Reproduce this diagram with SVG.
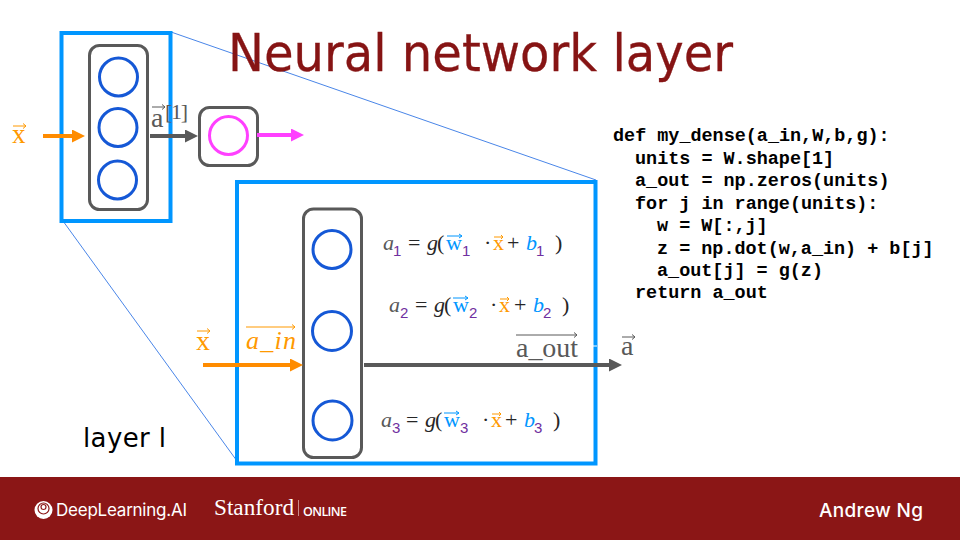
<svg xmlns="http://www.w3.org/2000/svg" width="960" height="540" viewBox="0 0 960 540">
<style>
.box{fill:none;stroke:#0096ff;stroke-width:4}
.thin{stroke:#4a86e8;stroke-width:1;fill:none}
.layer{fill:#fff;stroke:#595959;stroke-width:3}
.unit{fill:#fff;stroke:#1558d6;stroke-width:3}
.code{font:bold 18.45px "Liberation Mono",monospace;fill:#000;white-space:pre}
.m{font-family:"Liberation Serif","DejaVu Serif",serif;font-size:22px;fill:#262626}
.i{font-style:italic}
.sub{font-size:15px;fill:#7030a0;font-family:"Liberation Sans",sans-serif}
.gy{fill:#595959}.bl{fill:#0096ff}.or{fill:#ff9900}
.vo{stroke:#ff9900;stroke-width:1;fill:none}
.vg{stroke:#595959;stroke-width:1;fill:none}
.vb{stroke:#0096ff;stroke-width:1;fill:none}
.ft{fill:#fff}
</style>
<defs>
<marker id="ao" markerUnits="userSpaceOnUse" markerWidth="14" markerHeight="14" refX="2" refY="6.500" orient="auto"><path d="M0 0L13 6.500L0 13Z" fill="#ff8c00"/></marker>
<marker id="ag" markerUnits="userSpaceOnUse" markerWidth="14" markerHeight="14" refX="2" refY="6.500" orient="auto"><path d="M0 0L13 6.500L0 13Z" fill="#595959"/></marker>
<marker id="am" markerUnits="userSpaceOnUse" markerWidth="14" markerHeight="14" refX="2" refY="6.500" orient="auto"><path d="M0 0L13 6.500L0 13Z" fill="#ff40ff"/></marker>
</defs>
<rect width="960" height="540" fill="#fff"/>
<g id="connectors" fill="none" stroke-width="4">
<line class="thin" x1="171" y1="32" x2="596" y2="180"/>
<line class="thin" x1="63" y1="221" x2="237" y2="461"/>
</g>
<text id="title" x="228" y="71" font-family="'DejaVu Sans',Verdana,sans-serif" font-size="52" fill="#861414" stroke="#861414" stroke-width="0.3" textLength="505" lengthAdjust="spacingAndGlyphs">Neural network layer</text>
<g id="small-box"><rect class="box" x="61.500" y="33" width="109" height="188"/></g>
<g id="small-layer">
<rect class="layer" x="89.500" y="45.500" width="58" height="164" rx="10"/>
<circle class="unit" cx="118.500" cy="77" r="19"/>
<circle class="unit" cx="118" cy="127.500" r="19"/>
<circle class="unit" cx="117.500" cy="180" r="19"/>
</g>
<g id="output-node">
<rect class="layer" x="199.500" y="107.500" width="58" height="58" rx="10"/>
<circle cx="228.500" cy="135.500" r="19" fill="#fff" stroke="#ff40ff" stroke-width="3"/>
</g>
<g id="big-box"><rect class="box" x="237" y="182" width="358.500" height="281.500"/></g>
<g id="big-layer">
<rect class="layer" x="303.500" y="209" width="58" height="248.500" rx="10"/>
<circle class="unit" cx="332" cy="249.500" r="19"/>
<circle class="unit" cx="332" cy="331" r="19.500"/>
<circle class="unit" cx="332.500" cy="420.500" r="19.500"/>
</g>
<g id="arrows" fill="none" stroke-width="4">
<line x1="43" y1="136" x2="74" y2="136" stroke="#ff8c00" marker-end="url(#ao)"/>
<line x1="150" y1="136" x2="187" y2="136" stroke="#595959" marker-end="url(#ag)"/>
<line x1="257" y1="135" x2="293" y2="135" stroke="#ff40ff" marker-end="url(#am)"/>
<line x1="203" y1="365" x2="292" y2="365" stroke="#ff8c00" marker-end="url(#ao)"/>
<line x1="364" y1="365" x2="611" y2="365" stroke="#595959" marker-end="url(#ag)"/>
</g>
<rect x="593" y="345.500" width="4" height="1" fill="#fff"/>
<g id="labels">
<text x="12" y="143" class="m or" style="font-size:27px">x</text>
<path class="vo" d="M13 126H26M23 123.500L26 126L23 128.500"/>
<text x="151" y="127" class="m gy" style="font-size:28px">a</text>
<path class="vg" d="M152 107H165M162 104.500L165 107L162 109.500"/>
<text x="165" y="119" class="m gy" style="font-size:22px" textLength="23">[1]</text>
<text x="196" y="350" class="m or" style="font-size:28px">x</text>
<path class="vo" d="M197 331H210M207 328.500L210 331L207 333.500"/>
<text x="246" y="349" class="m i or" style="font-size:26px" textLength="50">a_in</text>
<path class="vo" d="M246 327H295M292 324.500L295 327L292 329.500"/>
<text x="516" y="357" class="m gy" style="font-size:28px" textLength="62">a_out</text>
<path class="vg" d="M516 335H577M574 332.500L577 335L574 337.500"/>
<text x="621" y="355" class="m gy" style="font-size:28px">a</text>
<path class="vg" d="M622 337H635M632 334.500L635 337L632 339.500"/>
<text x="83" y="447" font-family="'DejaVu Sans',Verdana,sans-serif" font-size="26" fill="#000" textLength="83">layer l</text>
</g>
<g id="eq1">
<text x="383" y="250" class="m i gy">a</text><text x="393" y="256" class="sub">1</text>
<text x="408" y="250" class="m">=</text><text x="427" y="250" class="m i">g</text><text x="437" y="250" class="m">(</text>
<text x="446" y="250" class="m bl">w</text><path class="vb" d="M447 236H462M459 234L462 236L459 238"/>
<text x="462" y="256" class="sub">1</text>
<text x="484" y="250" class="m">·</text>
<text x="493" y="250" class="m or">x</text><path class="vo" d="M494 237H503M501 235L503 237L501 239"/>
<text x="507" y="250" class="m">+</text><text x="526" y="250" class="m i bl">b</text><text x="536" y="256" class="sub">1</text>
<text x="555" y="250" class="m">)</text>
</g>
<g id="eq2">
<text x="389" y="312" class="m i gy">a</text><text x="400" y="318" class="sub">2</text>
<text x="415" y="312" class="m">=</text><text x="434" y="312" class="m i">g</text><text x="444" y="312" class="m">(</text>
<text x="453" y="312" class="m bl">w</text><path class="vb" d="M453 298H468M465 296L468 298L465 300"/>
<text x="469" y="318" class="sub">2</text>
<text x="490" y="312" class="m">·</text>
<text x="499" y="312" class="m or">x</text><path class="vo" d="M500 299H509M507 297L509 299L507 301"/>
<text x="514" y="312" class="m">+</text><text x="533" y="312" class="m i bl">b</text><text x="543" y="318" class="sub">2</text>
<text x="562" y="312" class="m">)</text>
</g>
<g id="eq3">
<text x="381" y="427" class="m i gy">a</text><text x="392" y="433" class="sub">3</text>
<text x="406" y="427" class="m">=</text><text x="425" y="427" class="m i">g</text><text x="435" y="427" class="m">(</text>
<text x="444" y="427" class="m bl">w</text><path class="vb" d="M444 413H459M456 411L459 413L456 415"/>
<text x="460" y="433" class="sub">3</text>
<text x="482" y="427" class="m">·</text>
<text x="491" y="427" class="m or">x</text><path class="vo" d="M492 414H501M499 412L501 414L499 416"/>
<text x="505" y="427" class="m">+</text><text x="524" y="427" class="m i bl">b</text><text x="534" y="433" class="sub">3</text>
<text x="553" y="427" class="m">)</text>
</g>
<g id="code">
<text class="code" x="613" y="141">def my_dense(a_in,W,b,g):</text>
<text class="code" x="635" y="164">units = W.shape[1]</text>
<text class="code" x="635" y="186">a_out = np.zeros(units)</text>
<text class="code" x="635" y="209">for j in range(units):</text>
<text class="code" x="657" y="231">w = W[:,j]</text>
<text class="code" x="657" y="254">z = np.dot(w,a_in) + b[j]</text>
<text class="code" x="657" y="276">a_out[j] = g(z)</text>
<text class="code" x="635" y="298">return a_out</text>
</g>
<g id="footer">
<rect x="0" y="477" width="960" height="63" fill="#8b1616"/>
<circle cx="43.500" cy="510" r="9" fill="#fff"/>
<circle cx="43.500" cy="508.500" r="5.500" fill="none" stroke="#8b1616" stroke-width="1.200"/>
<circle cx="43.500" cy="507" r="2.500" fill="none" stroke="#8b1616" stroke-width="1.200"/>
<text x="56" y="516" class="ft" font-family="Inter,'Open Sans',sans-serif" font-size="17" textLength="131">DeepLearning.AI</text>
<text x="214" y="515" class="ft" font-family="'Liberation Serif',serif" font-size="23" textLength="80" lengthAdjust="spacingAndGlyphs">Stanford</text>
<rect x="298" y="500" width="1" height="16" fill="#c98a8a"/>
<text x="303" y="516" class="ft" font-family="'Open Sans',sans-serif" font-weight="600" font-size="12.500" textLength="44">ONLINE</text>
<text x="819" y="517" class="ft" font-family="Inter,'Open Sans',sans-serif" font-weight="500" font-size="19" textLength="104">Andrew Ng</text>
</g>
</svg>
